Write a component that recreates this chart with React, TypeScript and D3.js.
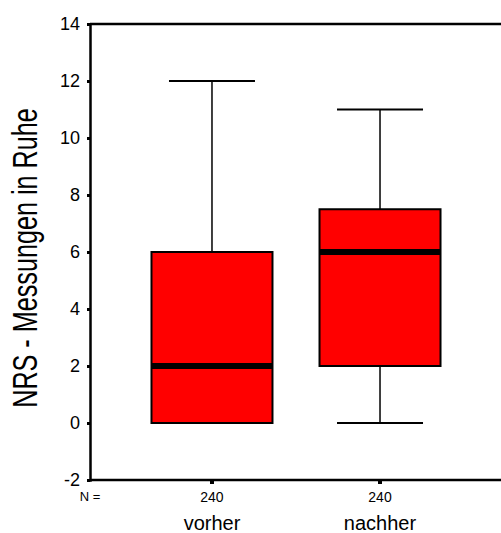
import { useEffect, useRef } from "react"
import * as d3 from "d3"

// data
const groups = ["vorher", "nachher"]
const counts = [240, 240]
const whiskerLow = [0, 0]
const q1 = [0, 2]
const medians = [2, 6]
const q3 = [6, 7.5]
const whiskerHigh = [12, 11]
const yTicks = [-2, 0, 2, 4, 6, 8, 10, 12, 14]

export default function App() {
  const svgRef = useRef<SVGSVGElement>(null)

  useEffect(() => {
    const svg = d3.select(svgRef.current)
    const width = 501
    const height = 533
    const left = 90
    const top = 24
    const bottom = 480

    svg.selectAll("*").remove()
    svg.attr("viewBox", `0 0 ${width} ${height}`)

    const x = d3.scalePoint().domain(groups).range([left, 502]).padding(0.726)
    const y = d3.scaleLinear().domain([-2, 14]).range([bottom, top])
    const font = "Liberation Sans, Arial, sans-serif"

    // frame lines top and bottom
    svg.append("line")
      .attr("x1", left).attr("x2", width)
      .attr("y1", y(14)).attr("y2", y(14))
      .attr("stroke", "black").attr("stroke-width", 2.5)
    svg.append("line")
      .attr("x1", left).attr("x2", width)
      .attr("y1", y(-2)).attr("y2", y(-2))
      .attr("stroke", "black").attr("stroke-width", 2.5)

    // y axis
    const yAxis = svg.append("g")
      .attr("transform", `translate(${left},0)`)
      .call(d3.axisLeft(y).tickValues(yTicks).tickSize(3).tickPadding(7)
        .tickFormat(d => String(d)))
    yAxis.select(".domain").attr("stroke-width", 2.5)
    yAxis.selectAll(".tick line").attr("stroke-width", 3)
    yAxis.selectAll("text")
      .attr("font-family", font)
      .attr("font-size", 18)
      .attr("fill", "black")

    // x ticks under the boxes
    svg.selectAll(".xtick")
      .data(groups)
      .join("line")
      .attr("x1", d => x(d)!).attr("x2", d => x(d)!)
      .attr("y1", bottom).attr("y2", bottom + 4)
      .attr("stroke", "black").attr("stroke-width", 4)

    svg.append("text")
      .attr("x", left).attr("y", 501)
      .attr("text-anchor", "middle")
      .attr("font-family", font).attr("font-size", 13)
      .text("N =")

    svg.selectAll(".count")
      .data(groups)
      .join("text")
      .attr("x", d => x(d)!).attr("y", 502)
      .attr("text-anchor", "middle")
      .attr("font-family", font).attr("font-size", 14)
      .text((d, i) => counts[i])

    svg.selectAll(".cat")
      .data(groups)
      .join("text")
      .attr("x", d => x(d)!).attr("y", 530)
      .attr("text-anchor", "middle")
      .attr("font-family", font).attr("font-size", 20)
      .text(d => d)

    // y label (narrow and tall like the original)
    svg.append("text")
      .attr("transform", `translate(37,258) rotate(-90) scale(0.9,1.25)`)
      .attr("text-anchor", "middle")
      .attr("font-family", font).attr("font-size", 28)
      .text("NRS - Messungen in Ruhe")

    // boxes
    const boxW = 121
    const capW = 86
    const g = svg.selectAll(".box").data(groups).join("g")

    g.append("line")
      .attr("x1", d => x(d)!).attr("x2", d => x(d)!)
      .attr("y1", (d, i) => y(whiskerLow[i])).attr("y2", (d, i) => y(whiskerHigh[i]))
      .attr("stroke", "black").attr("stroke-width", 1.5)
    g.append("line")
      .attr("x1", d => x(d)! - capW / 2).attr("x2", d => x(d)! + capW / 2)
      .attr("y1", (d, i) => y(whiskerHigh[i])).attr("y2", (d, i) => y(whiskerHigh[i]))
      .attr("stroke", "black").attr("stroke-width", 2)
    g.append("line")
      .attr("x1", d => x(d)! - capW / 2).attr("x2", d => x(d)! + capW / 2)
      .attr("y1", (d, i) => y(whiskerLow[i])).attr("y2", (d, i) => y(whiskerLow[i]))
      .attr("stroke", "black").attr("stroke-width", 2)
    g.append("rect")
      .attr("x", d => x(d)! - boxW / 2)
      .attr("width", boxW)
      .attr("y", (d, i) => y(q3[i]))
      .attr("height", (d, i) => y(q1[i]) - y(q3[i]))
      .attr("fill", "#ff0000")
      .attr("stroke", "black").attr("stroke-width", 2)
    g.append("line")
      .attr("x1", d => x(d)! - boxW / 2).attr("x2", d => x(d)! + boxW / 2)
      .attr("y1", (d, i) => y(medians[i])).attr("y2", (d, i) => y(medians[i]))
      .attr("stroke", "black").attr("stroke-width", 6)
  }, [])

  return (
    <svg
      ref={svgRef}
      width={501}
      height={533}
      style={{ position: "absolute", left: 0, top: 0, background: "white" }}
    />
  )
}
